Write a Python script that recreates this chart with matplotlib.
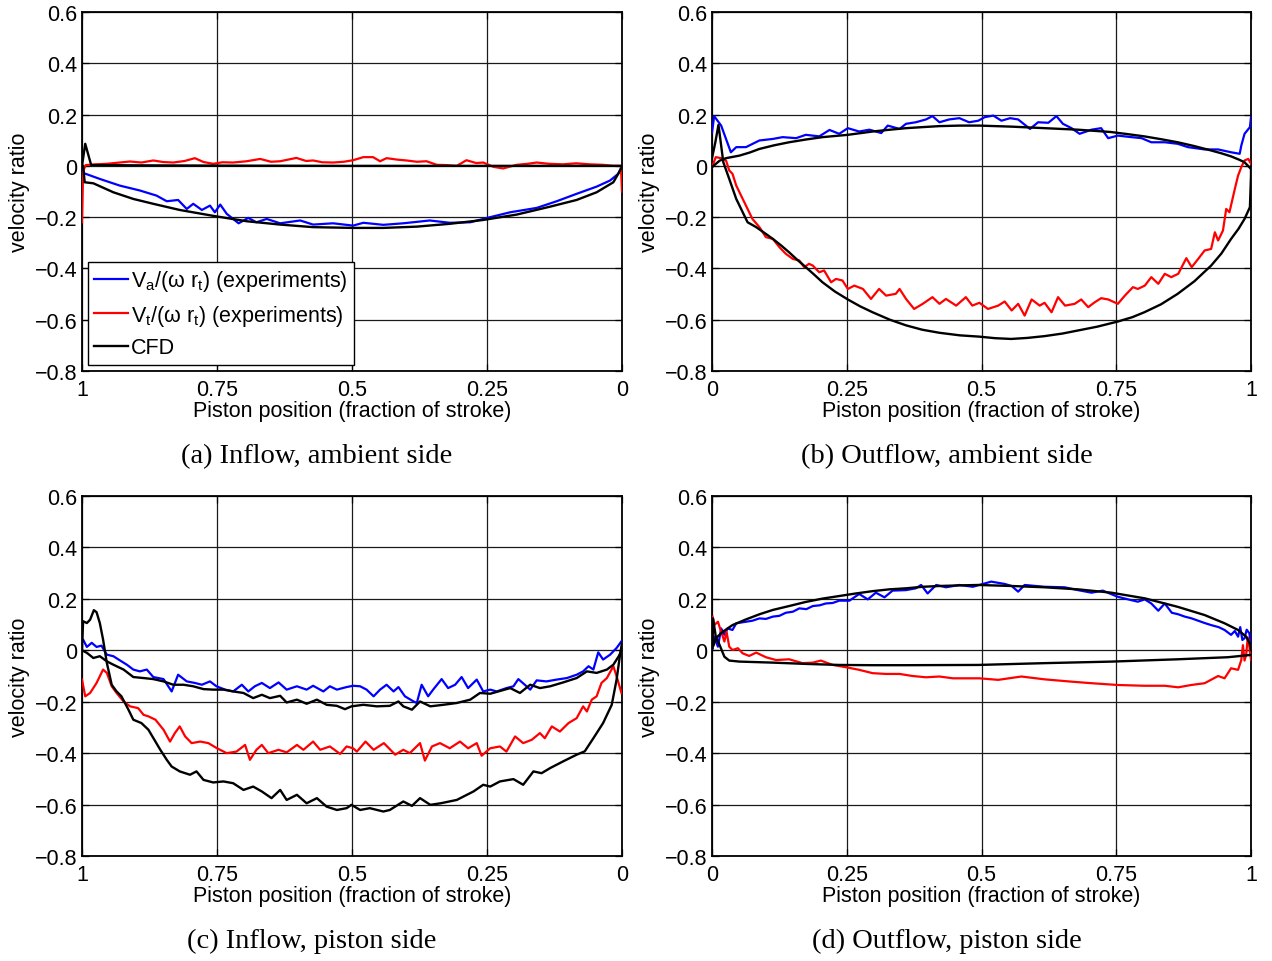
import numpy as np
import matplotlib
matplotlib.use('Agg')
import matplotlib.pyplot as plt
from matplotlib.ticker import FixedLocator, FixedFormatter

plt.rcParams['font.family'] = ['Liberation Sans', 'DejaVu Sans']
plt.rcParams['mathtext.fontset'] = 'custom'
plt.rcParams['mathtext.rm'] = 'Liberation Sans'
plt.rcParams['mathtext.it'] = 'Liberation Sans'

# ---------------- axis / text data ----------------
y_ticks = [-0.8, -0.6, -0.4, -0.2, 0.0, 0.2, 0.4, 0.6]
y_tick_labels = ['\u22120.8', '\u22120.6', '\u22120.4', '\u22120.2', '0', '0.2', '0.4', '0.6']
x_ticks = [0.0, 0.25, 0.5, 0.75, 1.0]
x_tick_labels = ['0', '0.25', '0.5', '0.75', '1']
x_label = 'Piston position (fraction of stroke)'
y_label = 'velocity ratio'
captions = ['(a) Inflow, ambient side', '(b) Outflow, ambient side',
            '(c) Inflow, piston side', '(d) Outflow, piston side']
legend_labels = ['V$_\\mathregular{a}$/(\u03c9 r$_\\mathregular{t}$) (experiments)',
                 'V$_\\mathregular{t}$/(\u03c9 r$_\\mathregular{t}$) (experiments)',
                 'CFD']

# ---------------- (a) Inflow, ambient side ----------------
a_blue = [(1.0, -0.005), (0.996, -0.029), (0.967, -0.051), (0.93, -0.077), (0.893, -0.096),
          (0.862, -0.116), (0.843, -0.138), (0.822, -0.133), (0.806, -0.168), (0.794, -0.148),
          (0.778, -0.172), (0.763, -0.155), (0.754, -0.181), (0.744, -0.151), (0.732, -0.187),
          (0.71, -0.224), (0.692, -0.203), (0.677, -0.22), (0.658, -0.207), (0.633, -0.224),
          (0.596, -0.213), (0.572, -0.229), (0.535, -0.224), (0.498, -0.233), (0.479, -0.222),
          (0.442, -0.230), (0.405, -0.224), (0.356, -0.213), (0.319, -0.222), (0.281, -0.220),
          (0.244, -0.200), (0.207, -0.181), (0.158, -0.164), (0.121, -0.138), (0.084, -0.109),
          (0.047, -0.081), (0.022, -0.057), (0.007, -0.031), (0.0, 0.0)]
a_red = [(1.0, -0.22), (0.998, -0.02), (0.993, 0.003), (0.975, 0.006), (0.954, 0.008),
         (0.935, 0.012), (0.911, 0.017), (0.89, 0.013), (0.868, 0.021), (0.85, 0.015),
         (0.831, 0.013), (0.81, 0.019), (0.791, 0.030), (0.775, 0.015), (0.757, 0.008),
         (0.74, 0.014), (0.72, 0.013), (0.695, 0.018), (0.670, 0.027), (0.65, 0.016),
         (0.633, 0.018), (0.603, 0.031), (0.585, 0.019), (0.572, 0.021), (0.555, 0.014),
         (0.535, 0.013), (0.515, 0.016), (0.498, 0.022), (0.479, 0.034), (0.461, 0.034),
         (0.448, 0.018), (0.436, 0.030), (0.415, 0.024), (0.399, 0.021), (0.38, 0.016),
         (0.362, 0.018), (0.343, 0.004), (0.325, 0.003), (0.306, 0.0), (0.288, 0.022),
         (0.27, 0.011), (0.257, 0.013), (0.238, -0.004), (0.22, -0.01), (0.195, 0.004),
         (0.175, 0.008), (0.158, 0.013), (0.135, 0.008), (0.109, 0.006), (0.085, 0.01),
         (0.060, 0.006), (0.035, 0.004), (0.016, 0.0), (0.002, 0.0), (0.0, -0.1)]
a_cfd_ax = [(0.998, 0.0), (0.995, -0.064), (0.979, -0.068), (0.942, -0.103), (0.905, -0.129),
            (0.868, -0.148), (0.819, -0.172), (0.757, -0.195), (0.695, -0.216), (0.633, -0.229),
            (0.572, -0.239), (0.498, -0.242), (0.442, -0.242), (0.380, -0.237), (0.319, -0.226),
            (0.257, -0.211), (0.195, -0.19), (0.133, -0.159), (0.084, -0.133), (0.047, -0.103),
            (0.016, -0.064), (0.0, -0.005)]
a_cfd_tan = [(1.0, 0.0), (0.994, 0.086), (0.983, 0.003), (0.9, 0.002), (0.75, 0.001),
             (0.5, 0.0), (0.25, 0.0), (0.0, 0.0)]

# ---------------- (b) Outflow, ambient side ----------------
b_blue = [(0.0, 0.13), (0.004, 0.194), (0.017, 0.157), (0.026, 0.105), (0.035, 0.053),
          (0.045, 0.073), (0.063, 0.073), (0.088, 0.099), (0.113, 0.105), (0.131, 0.112),
          (0.156, 0.108), (0.174, 0.121), (0.199, 0.115), (0.218, 0.140), (0.236, 0.125),
          (0.252, 0.147), (0.273, 0.134), (0.292, 0.141), (0.314, 0.128), (0.326, 0.157),
          (0.348, 0.144), (0.360, 0.164), (0.378, 0.170), (0.397, 0.181), (0.409, 0.194),
          (0.422, 0.170), (0.440, 0.181), (0.459, 0.186), (0.477, 0.170), (0.494, 0.176),
          (0.506, 0.190), (0.522, 0.196), (0.537, 0.176), (0.553, 0.186), (0.568, 0.181),
          (0.590, 0.144), (0.605, 0.170), (0.624, 0.168), (0.639, 0.194), (0.651, 0.164),
          (0.667, 0.147), (0.682, 0.125), (0.704, 0.141), (0.722, 0.147), (0.735, 0.108),
          (0.753, 0.118), (0.778, 0.112), (0.797, 0.108), (0.815, 0.092), (0.840, 0.092),
          (0.864, 0.086), (0.883, 0.073), (0.914, 0.064), (0.939, 0.064), (0.963, 0.053),
          (0.979, 0.047), (0.982, 0.079), (0.988, 0.125), (0.998, 0.151), (1.0, 0.190)]
b_red = [(0.0, -0.005), (0.007, 0.034), (0.017, 0.030), (0.026, 0.021), (0.032, -0.018),
         (0.038, -0.031), (0.045, -0.077), (0.054, -0.116), (0.063, -0.155), (0.075, -0.207),
         (0.088, -0.239), (0.100, -0.278), (0.113, -0.285), (0.125, -0.317), (0.137, -0.343),
         (0.150, -0.363), (0.162, -0.369), (0.171, -0.395), (0.180, -0.382), (0.187, -0.389),
         (0.199, -0.415), (0.208, -0.408), (0.221, -0.454), (0.230, -0.441), (0.242, -0.447),
         (0.252, -0.480), (0.264, -0.467), (0.280, -0.480), (0.295, -0.519), (0.310, -0.480),
         (0.323, -0.506), (0.341, -0.499), (0.348, -0.480), (0.360, -0.519), (0.375, -0.558),
         (0.391, -0.538), (0.409, -0.512), (0.422, -0.538), (0.434, -0.519), (0.453, -0.545),
         (0.471, -0.512), (0.483, -0.545), (0.496, -0.534), (0.512, -0.558), (0.531, -0.545),
         (0.543, -0.529), (0.556, -0.564), (0.568, -0.538), (0.580, -0.584), (0.593, -0.521),
         (0.608, -0.545), (0.617, -0.534), (0.630, -0.571), (0.642, -0.512), (0.655, -0.545),
         (0.673, -0.538), (0.685, -0.521), (0.698, -0.551), (0.710, -0.532), (0.722, -0.516),
         (0.735, -0.521), (0.753, -0.538), (0.766, -0.506), (0.781, -0.473), (0.790, -0.480),
         (0.803, -0.467), (0.815, -0.434), (0.828, -0.460), (0.840, -0.421), (0.852, -0.434),
         (0.865, -0.421), (0.880, -0.360), (0.890, -0.395), (0.902, -0.363), (0.914, -0.330),
         (0.926, -0.324), (0.933, -0.259), (0.939, -0.291), (0.948, -0.252), (0.954, -0.168),
         (0.960, -0.181), (0.970, -0.090), (0.976, -0.038), (0.982, -0.005), (0.988, 0.021),
         (0.995, 0.027), (1.0, 0.008)]
b_cfd_ax = [(0.0, -0.005), (0.014, 0.02), (0.026, 0.030), (0.051, 0.040), (0.070, 0.052),
            (0.088, 0.066), (0.115, 0.080), (0.143, 0.092), (0.175, 0.103), (0.205, 0.112),
            (0.252, 0.121), (0.298, 0.134), (0.330, 0.141), (0.360, 0.147), (0.390, 0.151),
            (0.422, 0.155), (0.460, 0.157), (0.496, 0.157), (0.555, 0.153), (0.617, 0.147),
            (0.679, 0.141), (0.740, 0.132), (0.770, 0.124), (0.802, 0.115), (0.833, 0.104),
            (0.864, 0.092), (0.895, 0.077), (0.926, 0.060), (0.945, 0.049), (0.963, 0.037),
            (0.978, 0.024), (0.988, 0.014), (1.0, -0.012)]
b_cfd_tan = [(0.0, 0.03), (0.006, 0.09), (0.012, 0.16), (0.021, 0.014), (0.032, -0.051),
             (0.045, -0.129), (0.057, -0.181), (0.066, -0.22), (0.082, -0.239), (0.097, -0.261),
             (0.113, -0.285), (0.128, -0.310), (0.143, -0.337), (0.158, -0.366), (0.174, -0.395),
             (0.190, -0.425), (0.205, -0.454), (0.228, -0.490), (0.252, -0.521), (0.275, -0.548),
             (0.298, -0.571), (0.330, -0.600), (0.360, -0.622), (0.390, -0.639), (0.422, -0.651),
             (0.460, -0.661), (0.496, -0.666), (0.525, -0.672), (0.555, -0.675), (0.585, -0.671),
             (0.617, -0.664), (0.650, -0.654), (0.679, -0.642), (0.715, -0.627), (0.753, -0.607),
             (0.780, -0.590), (0.802, -0.571), (0.833, -0.540), (0.864, -0.499), (0.895, -0.450),
             (0.926, -0.389), (0.945, -0.342), (0.963, -0.285), (0.977, -0.245), (0.988, -0.207),
             (0.998, -0.161), (1.0, -0.038), (1.0, -0.005)]

# ---------------- (c) Inflow, piston side ----------------
c_blue = [(1.0, 0.03), (0.998, 0.042), (0.991, 0.013), (0.982, 0.029), (0.973, 0.013),
          (0.964, 0.018), (0.954, -0.017), (0.942, -0.023), (0.930, -0.039), (0.917, -0.056),
          (0.905, -0.075), (0.893, -0.082), (0.880, -0.075), (0.868, -0.104), (0.849, -0.112),
          (0.834, -0.160), (0.822, -0.095), (0.806, -0.121), (0.791, -0.127), (0.778, -0.134),
          (0.763, -0.121), (0.751, -0.140), (0.735, -0.153), (0.720, -0.160), (0.704, -0.134),
          (0.692, -0.160), (0.680, -0.140), (0.667, -0.127), (0.652, -0.147), (0.636, -0.125),
          (0.621, -0.153), (0.602, -0.140), (0.584, -0.153), (0.572, -0.138), (0.553, -0.160),
          (0.541, -0.140), (0.528, -0.153), (0.510, -0.143), (0.498, -0.138), (0.485, -0.140),
          (0.473, -0.153), (0.460, -0.179), (0.448, -0.153), (0.436, -0.134), (0.423, -0.160),
          (0.414, -0.143), (0.402, -0.179), (0.386, -0.199), (0.380, -0.205), (0.371, -0.134),
          (0.359, -0.179), (0.349, -0.151), (0.334, -0.112), (0.322, -0.147), (0.309, -0.134),
          (0.297, -0.104), (0.285, -0.147), (0.269, -0.114), (0.257, -0.160), (0.244, -0.153),
          (0.232, -0.160), (0.214, -0.147), (0.201, -0.140), (0.192, -0.112), (0.180, -0.134),
          (0.170, -0.153), (0.158, -0.117), (0.140, -0.121), (0.121, -0.114), (0.102, -0.108),
          (0.084, -0.095), (0.072, -0.082), (0.062, -0.062), (0.053, -0.075), (0.044, -0.008),
          (0.035, -0.036), (0.022, -0.017), (0.010, 0.009), (0.001, 0.035)]
c_red = [(1.0, -0.114), (0.994, -0.179), (0.985, -0.166), (0.973, -0.127), (0.961, -0.075),
         (0.954, -0.088), (0.945, -0.140), (0.936, -0.166), (0.923, -0.199), (0.911, -0.218),
         (0.896, -0.225), (0.886, -0.251), (0.877, -0.257), (0.864, -0.270), (0.849, -0.309),
         (0.837, -0.355), (0.828, -0.322), (0.819, -0.296), (0.809, -0.335), (0.797, -0.361),
         (0.781, -0.355), (0.766, -0.361), (0.750, -0.381), (0.732, -0.400), (0.714, -0.394),
         (0.698, -0.368), (0.689, -0.426), (0.677, -0.387), (0.667, -0.368), (0.655, -0.400),
         (0.636, -0.387), (0.621, -0.397), (0.602, -0.368), (0.590, -0.387), (0.572, -0.355),
         (0.559, -0.387), (0.541, -0.374), (0.522, -0.403), (0.510, -0.374), (0.498, -0.381),
         (0.491, -0.394), (0.475, -0.355), (0.460, -0.387), (0.441, -0.361), (0.420, -0.406),
         (0.405, -0.387), (0.393, -0.400), (0.374, -0.361), (0.365, -0.429), (0.352, -0.374),
         (0.337, -0.361), (0.319, -0.381), (0.300, -0.355), (0.285, -0.381), (0.269, -0.361),
         (0.260, -0.410), (0.244, -0.381), (0.226, -0.374), (0.214, -0.394), (0.198, -0.335),
         (0.183, -0.361), (0.167, -0.348), (0.152, -0.322), (0.143, -0.342), (0.130, -0.296),
         (0.115, -0.316), (0.099, -0.283), (0.084, -0.264), (0.072, -0.218), (0.065, -0.238),
         (0.056, -0.192), (0.047, -0.179), (0.038, -0.127), (0.028, -0.108), (0.016, -0.062),
         (0.010, -0.101), (0.001, -0.166)]
c_cfd_ax = [(1.0, 0.0), (0.991, -0.01), (0.979, -0.03), (0.967, -0.023), (0.954, -0.043),
            (0.942, -0.056), (0.923, -0.075), (0.905, -0.104), (0.886, -0.108), (0.868, -0.112),
            (0.849, -0.121), (0.831, -0.134), (0.812, -0.134), (0.794, -0.140), (0.775, -0.151),
            (0.757, -0.153), (0.738, -0.153), (0.720, -0.160), (0.701, -0.166), (0.683, -0.186),
            (0.667, -0.173), (0.652, -0.186), (0.633, -0.177), (0.621, -0.203), (0.602, -0.192),
            (0.584, -0.208), (0.565, -0.192), (0.547, -0.212), (0.528, -0.216), (0.513, -0.229),
            (0.501, -0.218), (0.479, -0.212), (0.454, -0.218), (0.430, -0.216), (0.414, -0.199),
            (0.405, -0.218), (0.389, -0.231), (0.374, -0.199), (0.355, -0.218), (0.331, -0.212),
            (0.306, -0.205), (0.281, -0.192), (0.263, -0.166), (0.244, -0.169), (0.229, -0.160),
            (0.207, -0.147), (0.189, -0.166), (0.170, -0.134), (0.152, -0.147), (0.133, -0.140),
            (0.109, -0.125), (0.084, -0.108), (0.065, -0.082), (0.047, -0.088), (0.028, -0.075),
            (0.016, -0.056), (0.006, -0.023), (0.0, 0.003)]
c_cfd_tan = [(1.0, 0.0), (0.998, 0.113), (0.991, 0.106), (0.985, 0.119), (0.978, 0.156),
             (0.973, 0.148), (0.967, 0.106), (0.961, 0.042), (0.954, -0.049), (0.945, -0.134),
             (0.936, -0.160), (0.927, -0.179), (0.914, -0.231), (0.905, -0.270), (0.890, -0.283),
             (0.877, -0.309), (0.864, -0.355), (0.855, -0.387), (0.843, -0.426), (0.834, -0.452),
             (0.819, -0.471), (0.800, -0.484), (0.788, -0.471), (0.775, -0.504), (0.757, -0.514),
             (0.738, -0.510), (0.720, -0.517), (0.701, -0.543), (0.683, -0.530), (0.667, -0.549),
             (0.649, -0.575), (0.633, -0.543), (0.621, -0.582), (0.602, -0.562), (0.584, -0.595),
             (0.565, -0.575), (0.547, -0.608), (0.528, -0.621), (0.510, -0.614), (0.501, -0.601),
             (0.485, -0.621), (0.467, -0.614), (0.442, -0.627), (0.430, -0.621), (0.405, -0.588),
             (0.389, -0.605), (0.374, -0.575), (0.355, -0.601), (0.336, -0.595), (0.306, -0.582),
             (0.275, -0.549), (0.257, -0.523), (0.244, -0.530), (0.226, -0.510), (0.201, -0.501),
             (0.183, -0.523), (0.164, -0.471), (0.149, -0.478), (0.133, -0.458), (0.109, -0.432),
             (0.084, -0.406), (0.069, -0.393), (0.053, -0.342), (0.035, -0.283), (0.019, -0.212),
             (0.010, -0.114), (0.004, -0.023), (0.0, 0.029)]

# ---------------- (d) Outflow, piston side ----------------
d_blue = [(0.001, 0.008), (0.004, 0.053), (0.011, 0.014), (0.017, 0.085), (0.023, 0.060),
          (0.029, 0.085), (0.038, 0.079), (0.045, 0.105), (0.063, 0.111), (0.075, 0.115),
          (0.088, 0.124), (0.100, 0.122), (0.113, 0.131), (0.125, 0.134), (0.137, 0.146),
          (0.150, 0.150), (0.162, 0.163), (0.175, 0.160), (0.187, 0.172), (0.200, 0.175),
          (0.211, 0.182), (0.224, 0.184), (0.236, 0.193), (0.255, 0.193), (0.273, 0.219),
          (0.289, 0.198), (0.304, 0.224), (0.320, 0.206), (0.335, 0.232), (0.360, 0.234),
          (0.378, 0.241), (0.388, 0.254), (0.400, 0.221), (0.416, 0.254), (0.434, 0.245),
          (0.459, 0.254), (0.484, 0.247), (0.518, 0.267), (0.543, 0.258), (0.556, 0.250),
          (0.568, 0.228), (0.580, 0.254), (0.617, 0.247), (0.654, 0.245), (0.679, 0.234),
          (0.704, 0.224), (0.725, 0.232), (0.753, 0.208), (0.772, 0.198), (0.790, 0.189),
          (0.803, 0.198), (0.815, 0.182), (0.828, 0.154), (0.840, 0.182), (0.853, 0.146),
          (0.865, 0.140), (0.877, 0.131), (0.890, 0.124), (0.902, 0.115), (0.914, 0.106),
          (0.926, 0.098), (0.940, 0.090), (0.951, 0.079), (0.963, 0.060), (0.970, 0.075),
          (0.976, 0.053), (0.980, 0.09), (0.984, 0.04), (0.988, 0.047), (0.992, 0.08),
          (0.997, 0.066), (1.0, 0.021)]
d_red = [(0.001, 0.131), (0.004, 0.098), (0.011, 0.111), (0.017, 0.072), (0.023, 0.034),
         (0.027, 0.072), (0.032, 0.014), (0.038, 0.001), (0.048, 0.008), (0.057, -0.012),
         (0.069, -0.022), (0.082, -0.009), (0.100, -0.027), (0.119, -0.038), (0.143, -0.035),
         (0.168, -0.050), (0.187, -0.048), (0.202, -0.040), (0.224, -0.057), (0.249, -0.066),
         (0.273, -0.076), (0.298, -0.089), (0.323, -0.092), (0.348, -0.092), (0.372, -0.100),
         (0.397, -0.105), (0.422, -0.102), (0.447, -0.109), (0.471, -0.109), (0.496, -0.109),
         (0.531, -0.115), (0.574, -0.102), (0.617, -0.113), (0.667, -0.122), (0.704, -0.128),
         (0.753, -0.135), (0.803, -0.138), (0.840, -0.138), (0.865, -0.144), (0.889, -0.135),
         (0.914, -0.128), (0.939, -0.100), (0.951, -0.109), (0.963, -0.070), (0.976, -0.076),
         (0.982, -0.038), (0.985, 0.02), (0.988, -0.04), (0.991, -0.018), (0.994, 0.05),
         (0.997, 0.014), (1.0, -0.038)]
d_cfd_ax = [(0.003, 0.02), (0.007, 0.047), (0.020, 0.072), (0.038, 0.098), (0.063, 0.120),
            (0.088, 0.140), (0.113, 0.157), (0.143, 0.172), (0.174, 0.188), (0.205, 0.201),
            (0.236, 0.211), (0.267, 0.221), (0.298, 0.230), (0.329, 0.237), (0.360, 0.241),
            (0.391, 0.247), (0.422, 0.250), (0.453, 0.252), (0.494, 0.254), (0.556, 0.250),
            (0.617, 0.245), (0.679, 0.237), (0.741, 0.224), (0.803, 0.202), (0.864, 0.169),
            (0.914, 0.137), (0.951, 0.105), (0.976, 0.079), (0.991, 0.053), (0.999, 0.021),
            (1.0, 0.001)]
d_cfd_tan = [(0.001, 0.008), (0.002, 0.124), (0.007, 0.053), (0.014, 0.021), (0.023, -0.025),
             (0.032, -0.040), (0.051, -0.044), (0.113, -0.048), (0.174, -0.053), (0.236, -0.057),
             (0.298, -0.058), (0.360, -0.058), (0.494, -0.057), (0.617, -0.050), (0.741, -0.044),
             (0.864, -0.035), (0.957, -0.027), (1.0, -0.018)]

panels = [
    dict(blue=a_blue, red=a_red, cfd=[a_cfd_ax, a_cfd_tan], xlim=(1, 0),
         rect=[82, 13, 622, 372], cap=captions[0], cap_xy=(317, 457), legend=True),
    dict(blue=b_blue, red=b_red, cfd=[b_cfd_ax, b_cfd_tan], xlim=(0, 1),
         rect=[712, 13, 1251, 372], cap=captions[1], cap_xy=(947, 457), legend=False),
    dict(blue=c_blue, red=c_red, cfd=[c_cfd_ax, c_cfd_tan], xlim=(1, 0),
         rect=[82, 497, 622, 857], cap=captions[2], cap_xy=(312, 941), legend=False),
    dict(blue=d_blue, red=d_red, cfd=[d_cfd_ax, d_cfd_tan], xlim=(0, 1),
         rect=[712, 497, 1251, 857], cap=captions[3], cap_xy=(947, 941), legend=False),
]

W, H = 1272, 962
fig = plt.figure(figsize=(W / 100, H / 100), dpi=100)
FS = 15.5
LW = 1.6

for p in panels:
    l, t, r, b = p['rect']
    ax = fig.add_axes([l / W, 1 - b / H, (r - l) / W, (b - t) / H])
    blue = np.array(p['blue'])
    red = np.array(p['red'])
    hb, = ax.plot(blue[:, 0], blue[:, 1], color='#0000ff', lw=LW, zorder=3)
    hr, = ax.plot(red[:, 0], red[:, 1], color='#ff0000', lw=LW, zorder=3)
    hk = None
    for c in p['cfd']:
        c = np.array(c)
        hk, = ax.plot(c[:, 0], c[:, 1], color='k', lw=LW + 0.1, zorder=4)
    ax.set_xlim(*p['xlim'])
    ax.set_ylim(-0.8, 0.6)
    ax.xaxis.set_major_locator(FixedLocator(x_ticks))
    ax.xaxis.set_major_formatter(FixedFormatter(x_tick_labels))
    ax.yaxis.set_major_locator(FixedLocator(y_ticks))
    ax.yaxis.set_major_formatter(FixedFormatter(y_tick_labels))
    ax.grid(True, color='#1a1a1a', lw=0.9, zorder=1)
    ax.set_axisbelow(True)
    ax.tick_params(axis='both', direction='in', length=5, width=0.9,
                   top=True, right=True, labelsize=FS)
    ax.tick_params(axis='x', pad=6)
    ax.tick_params(axis='y', pad=3.5)
    for s in ax.spines.values():
        s.set_linewidth(1.3)
    ax.set_xlabel(x_label, fontsize=FS, labelpad=0)
    ax.set_ylabel(y_label, fontsize=FS, labelpad=3)
    fig.text(p['cap_xy'][0] / W, 1 - p['cap_xy'][1] / H, p['cap'],
             family=['Liberation Serif', 'DejaVu Serif'], fontsize=20.5,
             ha='center', va='center')
    if p['legend']:
        leg = ax.legend([hb, hr, hk], legend_labels, loc='lower left',
                        bbox_to_anchor=(0.011, 0.017), borderaxespad=0,
                        fontsize=FS, frameon=True, fancybox=False, framealpha=1,
                        edgecolor='k', handlelength=1.55, handletextpad=0.15,
                        borderpad=0.3, labelspacing=0.45)
        leg.get_frame().set_linewidth(1.0)
        leg.set_zorder(10)

fig.savefig('out.png', dpi=100)
